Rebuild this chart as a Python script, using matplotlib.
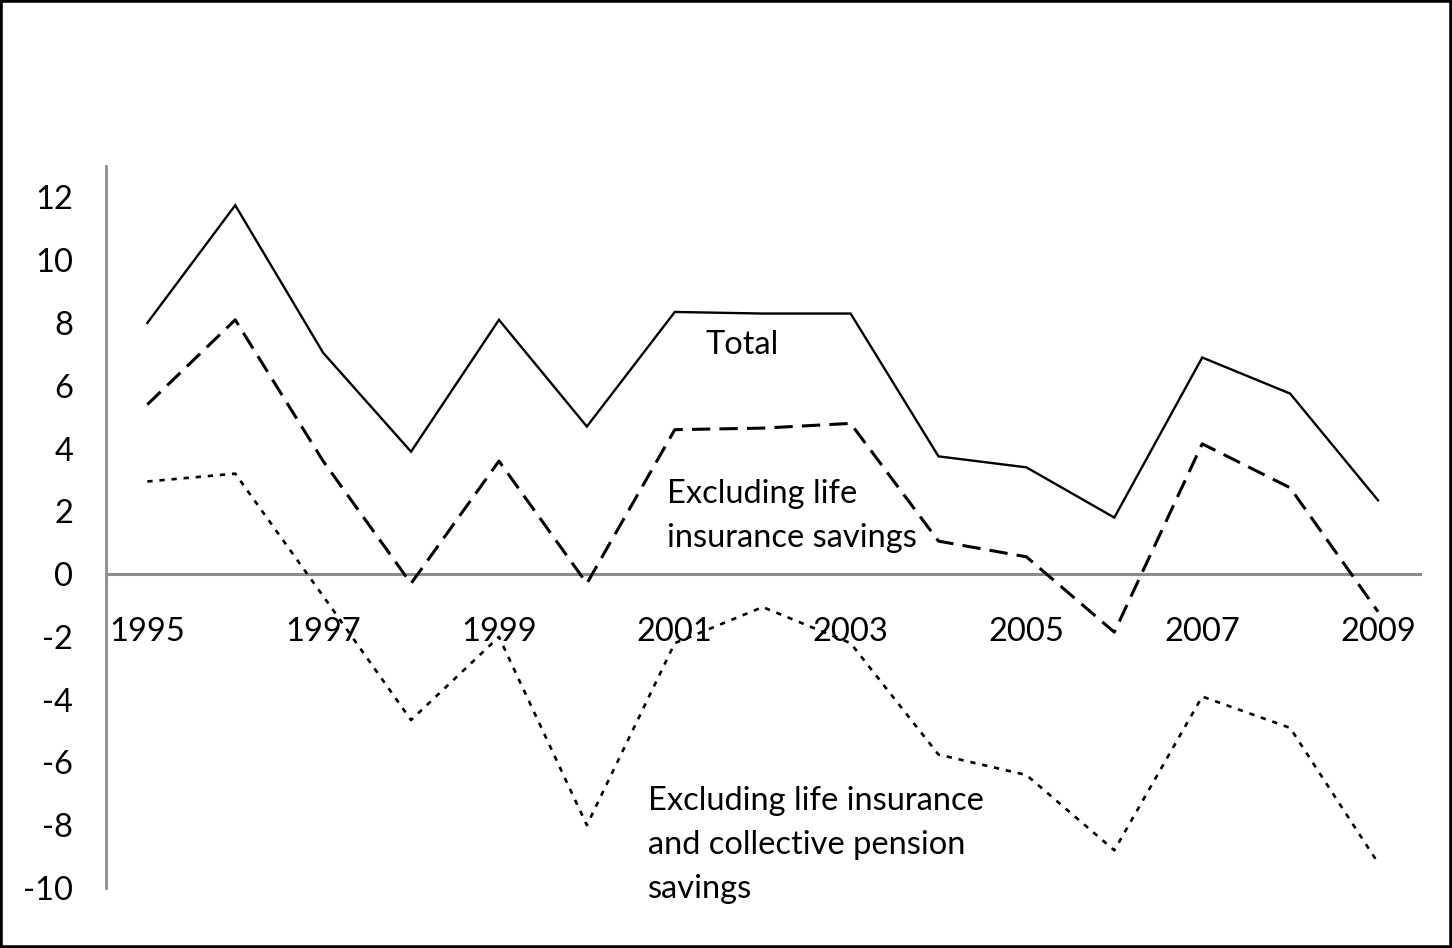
import matplotlib
matplotlib.use("Agg")
import matplotlib.pyplot as plt
from matplotlib.patches import Rectangle

years = list(range(1995, 2010))
total = [8.0, 11.75, 7.05, 3.9, 8.1, 4.7, 8.35, 8.3, 8.3, 3.75, 3.4, 1.8, 6.9, 5.75, 2.35]
excl_life = [5.4, 8.1, 3.6, -0.3, 3.6, -0.3, 4.6, 4.65, 4.8, 1.05, 0.55, -1.85, 4.15, 2.75, -1.2]
excl_life_pension = [2.95, 3.2, -0.7, -4.65, -2.0, -8.0, -2.2, -1.05, -2.2, -5.75, -6.4, -8.8, -3.9, -4.9, -9.2]
xtick_years = [1995, 1997, 1999, 2001, 2003, 2005, 2007, 2009]
yticks = list(range(-10, 13, 2))

W, H = 1452, 948
FS = 23.5
plt.rcParams['font.family'] = ['Lato', 'DejaVu Sans']
fig = plt.figure(figsize=(W / 100, H / 100), dpi=100)
ax = fig.add_axes([106 / W, 1 - 888 / H, (1422 - 106) / W, (888 - 166) / H])

ax.plot(years, total, color='black', lw=1.7, solid_joinstyle='miter')
ax.plot(years, excl_life, color='black', lw=2.2, dashes=(6, 3))
ax.plot(years, excl_life_pension, color='black', lw=1.9, dashes=(2, 2.6))

ax.axhline(0, color='#8c8c8c', lw=2.2, zorder=0)
ax.set_xlim(1994.53, 2009.5)
ax.set_ylim(-10, 13)

for s in ['top', 'right', 'bottom']:
    ax.spines[s].set_visible(False)
ax.spines['left'].set_color('#8c8c8c')
ax.spines['left'].set_linewidth(2)
ax.set_xticks([])
ax.set_yticks(yticks)
ax.set_yticklabels([str(v) for v in yticks], fontsize=FS)
ax.tick_params(axis='y', length=0, pad=23.5)

for yr in xtick_years:
    ax.text(yr, -1.85, str(yr), ha='center', va='center', fontsize=FS)

def label(x, baseline, s):
    fig.text(x / W, 1 - baseline / H, s, ha='left', va='baseline', fontsize=FS)

label(705, 354, "Total")
label(667, 503, "Excluding life")
label(667, 547, "insurance savings")
label(648, 810, "Excluding life insurance")
label(648, 854, "and collective pension")
label(648, 898, "savings")

fig.add_artist(Rectangle((0, 0), 1, 1, transform=fig.transFigure, fill=False,
                         edgecolor='black', lw=4.0))

fig.savefig("out.png", dpi=100)
